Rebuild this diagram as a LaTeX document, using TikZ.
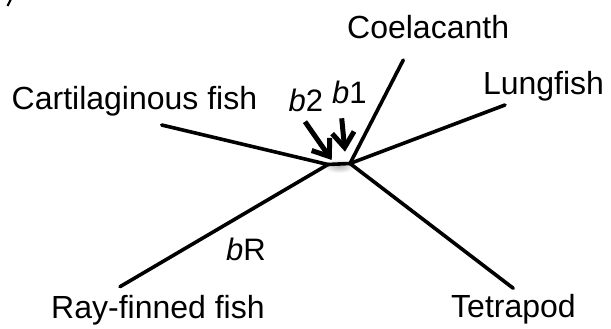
\documentclass[tikz,border=0pt]{standalone}
\usepackage{fontspec}
\setmainfont{Liberation Sans}
\usetikzlibrary{arrows.meta}
\begin{document}
\begin{tikzpicture}[x=1pt,y=-1pt,
  branch/.style={line width=3.6pt, line cap=round},
  pointer/.style={line width=5pt, -{Straight Barb[length=15pt,width=22pt]}},
  lab/.style={anchor=base west, inner sep=0pt, font=\fontsize{32}{36}\selectfont},
  blab/.style={anchor=base west, inner sep=0pt, font=\fontsize{31}{36}\selectfont}]
\useasboundingbox (0,0) rectangle (611,329);
% fragment of a label cut off at the top left
\draw[line width=2.2pt] (7.5,6) -- (11,-1);
% soft shadow round the inner branch
\shade[inner color=black!35, outer color=white, opacity=0.8] (339,166) ellipse (16pt and 7pt);
% internal nodes
\coordinate (L) at (328,164.5);
\coordinate (R) at (350,163.5);
% leaf ends
\coordinate (cart) at (161.7,125);
\coordinate (coel) at (403.3,60);
\coordinate (lung) at (505,105);
\coordinate (ray) at (120,286.7);
\coordinate (tetra) at (513.3,288.3);
% branches
\draw[branch] (cart) -- (L);
\draw[branch] (ray) -- (L);
\draw[branch] (L) -- (R);
\draw[branch] (R) -- (coel);
\draw[branch] (R) -- (lung);
\draw[branch] (R) -- (tetra);
% labels
\node[lab] (tcart) at (11.5,110) {Cartilaginous fish};
\node[lab] (tcoel) at (347,38.3) {Coelacanth};
\node[lab] (tlung) at (482.8,94.3) {Lungfish};
\node[lab] (tray) at (51,318.3) {Ray-finned fish};
\node[lab] (ttetra) at (451,317.7) {Tetrapod};
\node[blab] (b2) at (288.5,111.7) {\textit{b}2};
\node[blab] (b1) at (332,103.3) {\textit{b}1};
\node[blab] (bR) at (226,260) {\textit{b}R};
% arrows
\coordinate (a2s) at (305,121.7);
\coordinate (a2e) at (331.7,160);
\coordinate (a1s) at (341.7,118.3);
\coordinate (a1e) at (345,151.7);
\draw[pointer] (a2s) -- (a2e);
\draw[pointer] (a1s) -- (a1e);
\end{tikzpicture}
\end{document}
